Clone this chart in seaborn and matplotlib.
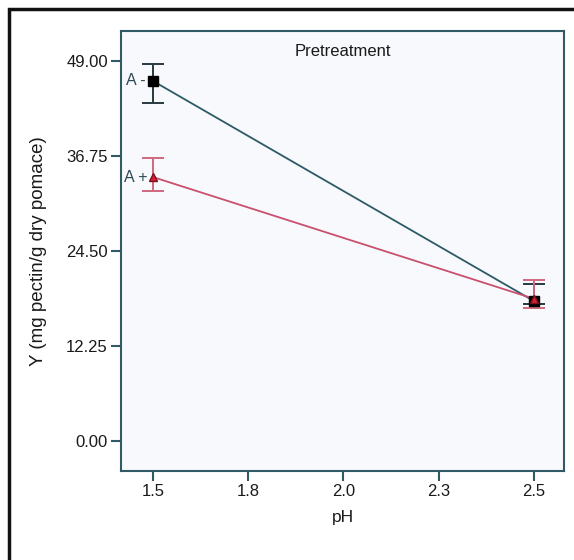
import matplotlib
matplotlib.use("Agg")
import matplotlib.pyplot as plt
import matplotlib.patches as mpatches
import seaborn as sns
import pandas as pd

# ---- data ----
ph = [1.5, 2.5]
y_minus = [46.4, 18.0]          # A - (black squares)
y_minus_lo = [43.5, 17.6]
y_minus_hi = [48.6, 20.2]
y_plus = [34.0, 18.3]           # A + (red triangles)
y_plus_lo = [32.2, 17.1]
y_plus_hi = [36.4, 20.7]
series_labels = ["A -", "A +"]
x_ticks = [1.5, 1.75, 2.0, 2.25, 2.5]
x_tick_labels = ["1.5", "1.8", "2.0", "2.3", "2.5"]
y_ticks = [0.0, 12.25, 24.5, 36.75, 49.0]

sns.set_theme(style="white")
plt.rcParams["font.family"] = ["Liberation Sans", "DejaVu Sans"]

df = pd.DataFrame({
    "pH": ph + ph,
    "Y": y_minus + y_plus,
    "grp": [series_labels[0]] * 2 + [series_labels[1]] * 2,
})

fig = plt.figure(figsize=(5.74, 5.60), dpi=100)
ax = fig.add_axes([121 / 574, 89 / 560, 443 / 574, 440 / 560])
ax.set_facecolor("#f8f9fc")

line_cols = {series_labels[0]: "#2d5a66", series_labels[1]: "#c9506e"}
sns.lineplot(data=df, x="pH", y="Y", hue="grp", palette=line_cols,
             legend=False, ax=ax, linewidth=1.3, zorder=2)

# error bars
def err(mean, lo, hi):
    return [[m - l for m, l in zip(mean, lo)], [h - m for m, h in zip(mean, hi)]]

ax.errorbar(ph, y_minus, yerr=err(y_minus, y_minus_lo, y_minus_hi), fmt="none",
            ecolor="#263a40", elinewidth=1.4, capsize=8, capthick=1.4, zorder=3)
ax.errorbar(ph, y_plus, yerr=err(y_plus, y_plus_lo, y_plus_hi), fmt="none",
            ecolor="#d0687c", elinewidth=1.4, capsize=8, capthick=1.4, zorder=3)

# markers
ax.plot(ph, y_minus, linestyle="none", marker="s", markersize=7,
        color="black", zorder=4)
ax.plot(ph, y_plus, linestyle="none", marker="^", markersize=6,
        markerfacecolor="#d81f2a", markeredgecolor="#7a1020", zorder=5)

# group labels
ax.annotate(series_labels[0], (ph[0], y_minus[0]), xytext=(-5, 0),
            textcoords="offset points", ha="right", va="center",
            fontsize=11.5, color="#2d4a55")
ax.annotate(series_labels[1], (ph[0], y_plus[0]), xytext=(-4, 0),
            textcoords="offset points", ha="right", va="center",
            fontsize=11.5, color="#2d4a55")

ax.set_xlim(1.416, 2.579)
ax.set_ylim(-3.93, 52.85)
ax.set_xticks(x_ticks)
ax.set_xticklabels(x_tick_labels)
ax.set_yticks(y_ticks)
ax.set_yticklabels([f"{v:.2f}" for v in y_ticks])

for s in ax.spines.values():
    s.set_color("#2f5a66")
    s.set_linewidth(1.5)

ax.tick_params(axis="both", direction="out", length=7, width=1.5,
               color="#2f5a66", labelsize=12, labelcolor="#1a1a1a", pad=2.5,
               bottom=True, left=True)

ax.set_xlabel("pH", fontsize=12.5, color="#1a1a1a", labelpad=8)
ax.set_ylabel("Y (mg pectin/g dry pomace)", fontsize=13.5, color="#1a1a1a",
              labelpad=14)
ax.text(0.5, 0.97, "Pretreatment", transform=ax.transAxes, ha="center",
        va="top", fontsize=12, color="#1a1a1a")

# outer frame (cropped on right/bottom)
frame = mpatches.Rectangle((9 / 574, -0.1), 1.2, 1.0 - 9 / 560 + 0.1,
                           transform=fig.transFigure, fill=False,
                           edgecolor="#111111", linewidth=2.5, clip_on=False)
fig.patches.append(frame)

fig.savefig("out.png", dpi=100, facecolor="white")
